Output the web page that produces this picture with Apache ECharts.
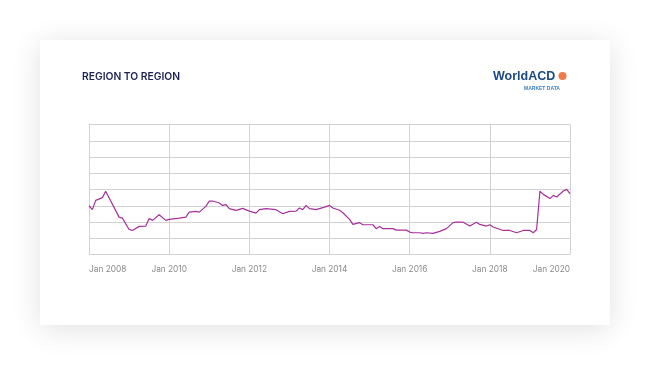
<!DOCTYPE html>
<html>
<head>
<meta charset="utf-8">
<script src="https://cdn.jsdelivr.net/npm/echarts@6/dist/echarts.min.js"></script>
<style>
html,body{margin:0;padding:0;background:#fff;width:650px;height:365px;overflow:hidden;}
#card{position:absolute;left:40px;top:40px;width:570px;height:285px;background:#fff;box-shadow:0 4px 28px rgba(0,0,0,0.12);}
#chart{position:absolute;left:0;top:0;width:650px;height:365px;}
</style>
</head>
<body>
<div id="card"></div>
<div id="chart"></div>
<script>
// Chart data
const titleText = "REGION TO REGION";
const startYear = 2008;
const dates = [
 "2008-01","2008-02","2008-03","2008-05","2008-06","2008-10","2008-11",
 "2009-01","2009-02","2009-04","2009-06","2009-07","2009-08","2009-10","2009-12",
 "2010-01","2010-04","2010-06","2010-07","2010-09","2010-10","2010-12",
 "2011-01","2011-02","2011-04","2011-05","2011-06","2011-07","2011-09","2011-11",
 "2012-01","2012-03","2012-04","2012-06","2012-09","2012-11",
 "2013-01","2013-03","2013-04","2013-05","2013-06","2013-07","2013-09","2013-11","2013-12",
 "2014-01","2014-02","2014-04","2014-05","2014-07","2014-08","2014-10","2014-11",
 "2015-02","2015-03","2015-04","2015-05","2015-08","2015-09","2015-12",
 "2016-01","2016-02","2016-04","2016-05","2016-06","2016-08","2016-10","2016-12",
 "2017-02","2017-03","2017-05","2017-07","2017-09","2017-10","2017-12",
 "2018-01","2018-02","2018-05","2018-07","2018-09","2018-11",
 "2019-01","2019-02","2019-03","2019-04","2019-05","2019-07","2019-08","2019-09","2019-11","2019-12",
 "2020-01"
];
const values = [
 3.00,2.76,3.33,3.50,3.89,2.30,2.24,
 1.54,1.48,1.73,1.75,2.22,2.10,2.45,2.10,
 2.16,2.24,2.30,2.61,2.65,2.61,2.96,
 3.29,3.29,3.17,3.02,3.07,2.82,2.72,2.84,
 2.67,2.55,2.76,2.82,2.76,2.51,
 2.65,2.67,2.86,2.76,3.02,2.82,2.76,2.88,2.95,
 3.02,2.86,2.72,2.57,2.16,1.85,1.96,1.83,
 1.83,1.59,1.73,1.59,1.59,1.50,1.50,
 1.38,1.34,1.34,1.30,1.34,1.30,1.42,1.59,
 1.96,1.99,1.99,1.75,1.99,1.85,1.75,
 1.83,1.69,1.48,1.48,1.34,1.48,
 1.48,1.34,1.54,3.89,3.70,3.44,3.64,3.54,3.91,4.01,
 3.75
];
const tickYears = [2008,2010,2012,2014,2016,2018,2020];

function monthIndex(s){const p=s.split('-');return (parseInt(p[0])-startYear)*12+parseInt(p[1])-1;}
const seriesData = dates.map((d,i)=>[monthIndex(d), values[i]]);

const chart = echarts.init(document.getElementById('chart'), null, {renderer:'canvas'});
chart.setOption({
  backgroundColor:'transparent',
  animation:false,
  title:{
    text:titleText, left:82, top:71.5, padding:0,
    textStyle:{fontFamily:'Inter', fontSize:10.3, fontWeight:600, color:'#1e2354'}
  },
  graphic:[
    {type:'text', left:493, top:70.5, style:{text:'WorldACD', font:'bold 12.5px "Liberation Sans", Arial', fill:'#1c4a88'}},
    {type:'circle', shape:{cx:562.5, cy:76, r:4}, style:{fill:'#f07a4a'}},
    {type:'text', left:524, top:86.5, style:{text:'MARKET DATA', font:'bold 5px "Liberation Sans", Arial', fill:'#3c80c4'}}
  ],
  grid:{left:89, top:124.5, width:481, height:130, containLabel:false},
  xAxis:{
    type:'value', min:0, max:(tickYears[tickYears.length-1]-startYear)*12, interval:24,
    axisLine:{show:false}, axisTick:{show:false},
    splitLine:{show:true, lineStyle:{color:'#d2d2d2', width:1}},
    axisLabel:{
      margin:11, color:'#8a8a8a', fontFamily:'Inter', fontSize:8.3,
      alignMinLabel:'left', alignMaxLabel:'right',
      formatter:v=>'Jan '+(startYear+v/12)
    }
  },
  yAxis:{
    type:'value', min:0, max:8, interval:1,
    axisLine:{show:false}, axisTick:{show:false}, axisLabel:{show:false},
    splitLine:{show:true, lineStyle:{color:'#d2d2d2', width:1}}
  },
  series:[{
    type:'line', data:seriesData, showSymbol:false, symbol:'none',
    lineStyle:{color:'#a6309c', width:1.2}
  }]
});
</script>
</body>
</html>
